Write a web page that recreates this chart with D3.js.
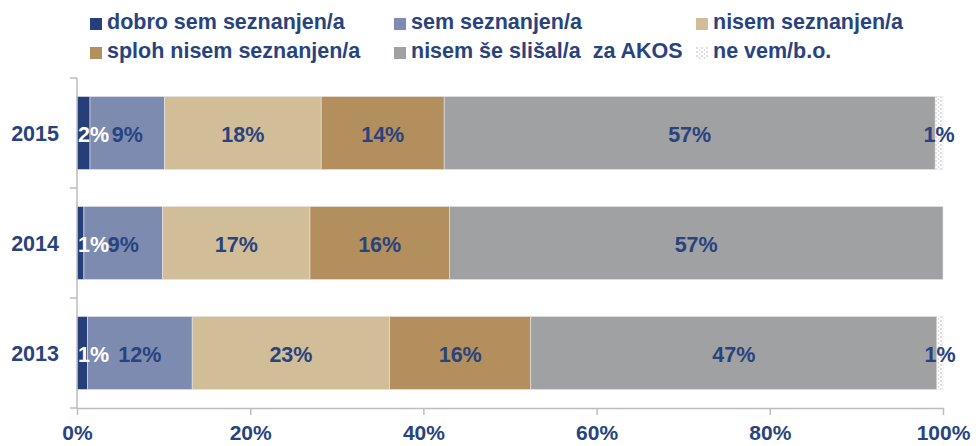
<!DOCTYPE html>
<html>
<head>
<meta charset="utf-8">
<script src="https://cdn.jsdelivr.net/npm/d3@7"></script>
<style>
  html, body { margin: 0; padding: 0; background: #fff; }
  svg { display: block; font-family: "Liberation Sans", Arial, sans-serif; font-weight: bold; }
</style>
</head>
<body>
<svg id="chart" width="976" height="446"></svg>
<script>
// Awareness of AKOS, share of respondents per year (percent)
const years = ["2015", "2014", "2013"];
const dobro = [1.5, 0.8, 1.2];          // dobro sem seznanjen/a
const sem = [8.6, 9.1, 12.1];           // sem seznanjen/a
const nisem = [18.1, 17.0, 22.8];       // nisem seznanjen/a
const sploh = [14.2, 16.1, 16.3];       // sploh nisem seznanjen/a
const neSlisal = [56.7, 57.0, 46.9];    // nisem še slišal/a za AKOS
const neVem = [0.9, 0.0, 0.7];          // ne vem/b.o.

const seriesNames = ["dobro sem seznanjen/a", "sem seznanjen/a", "nisem seznanjen/a",
  "sploh nisem seznanjen/a", "nisem še slišal/a  za AKOS", "ne vem/b.o."];
const seriesValues = [dobro, sem, nisem, sploh, neSlisal, neVem];
const xTicks = [0, 20, 40, 60, 80, 100];

const colors = ["#263f7a", "#7d8bb0", "#d2bd99", "#b38f5d", "#a0a1a3", "url(#dots)"];
const textColor = "#28437e";

const svg = d3.select("#chart");

// dotted fill for "ne vem/b.o."
const pat = svg.append("defs").append("pattern")
  .attr("id", "dots").attr("patternUnits", "userSpaceOnUse")
  .attr("width", 5).attr("height", 4);
pat.append("rect").attr("width", 5).attr("height", 4).attr("fill", "#fff");
pat.append("circle").attr("cx", 1).attr("cy", 1).attr("r", 0.8).attr("fill", "#b4b4b4");
pat.append("circle").attr("cx", 3.5).attr("cy", 3).attr("r", 0.8).attr("fill", "#c8c8c8");

const x = d3.scaleLinear().domain([0, 100]).range([77, 943]);
const y = d3.scaleBand().domain(years).range([78, 408])
  .paddingInner(0.336).paddingOuter(0.168);

// stacked table
const rows = years.map((yr, i) => {
  const r = { year: yr };
  seriesValues.forEach((s, k) => r["s" + k] = s[i]);
  return r;
});
const keys = seriesValues.map((_, k) => "s" + k);
const stacked = d3.stack().keys(keys)(rows);

// bars
const layers = svg.append("g").selectAll("g").data(stacked).join("g")
  .attr("fill", (d, k) => colors[k]);
layers.selectAll("rect").data(d => d).join("rect")
  .attr("x", d => x(d[0]))
  .attr("width", d => Math.max(0, x(d[1]) - x(d[0])))
  .attr("y", d => y(d.data.year))
  .attr("height", y.bandwidth())
  .attr("stroke", "#e6e6e6").attr("stroke-width", 0.6);

// y axis: vertical line with ticks on category boundaries
const axisG = svg.append("g").attr("stroke", "#bdbdbd").attr("stroke-width", 1.5);
const bounds = years.map(yr => y(yr) - y.step() * y.paddingInner() / 2)
  .concat([y.range()[1]]);
axisG.append("line").attr("x1", x(0)).attr("x2", x(0))
  .attr("y1", bounds[0]).attr("y2", y.range()[1]);
axisG.selectAll("line.tk").data(bounds).join("line").attr("class", "tk")
  .attr("x1", x(0) - 7).attr("x2", x(0)).attr("y1", d => d).attr("y2", d => d);

// year labels
svg.append("g").selectAll("text").data(years).join("text")
  .attr("x", 59).attr("y", d => y(d) + y.bandwidth() / 2)
  .attr("dy", "0.36em").attr("text-anchor", "end")
  .attr("fill", textColor).attr("font-size", 21.5)
  .text(d => d);

// x axis
const xAxis = svg.append("g").attr("transform", `translate(0,${y.range()[1]})`)
  .call(d3.axisBottom(x).tickValues(xTicks).tickSize(7).tickSizeOuter(0)
    .tickPadding(10).tickFormat(d => d + "%"));
xAxis.select(".domain").attr("stroke", "#bdbdbd").attr("stroke-width", 1.5);
xAxis.selectAll(".tick line").attr("stroke", "#bdbdbd").attr("stroke-width", 1.5);
xAxis.selectAll(".tick text").attr("fill", textColor).attr("font-size", 21)
  .attr("font-family", "'Liberation Sans', Arial, sans-serif").attr("font-weight", "bold");

// data labels
const fmt = v => d3.format(".0f")(v) + "%";
stacked.forEach((layer, k) => {
  svg.append("g").selectAll("text").data(layer.filter(d => d[1] - d[0] > 0)).join("text")
    .attr("x", d => k === 0 ? x(d[0]) + 1 : (x(d[0]) + x(d[1])) / 2)
    .attr("y", d => y(d.data.year) + y.bandwidth() / 2)
    .attr("dy", "0.42em")
    .attr("text-anchor", k === 0 ? "start" : "middle")
    .attr("fill", k === 0 ? "#ffffff" : textColor)
    .attr("font-size", 21.5)
    .text(d => fmt(d[1] - d[0]));
});

// legend
const legendPos = [[90, 18], [394, 18], [696, 18], [90, 47], [394, 47], [696, 47]];
const lg = svg.append("g").selectAll("g").data(seriesNames).join("g")
  .attr("transform", (d, i) => `translate(${legendPos[i][0]},${legendPos[i][1]})`);
lg.append("rect").attr("width", 12).attr("height", 12)
  .attr("fill", (d, i) => colors[i]);
lg.append("text").attr("x", 17).attr("y", 11)
  .attr("fill", textColor).attr("font-size", 21.5)
  .style("white-space", "pre")
  .text(d => d);
</script>
</body>
</html>
